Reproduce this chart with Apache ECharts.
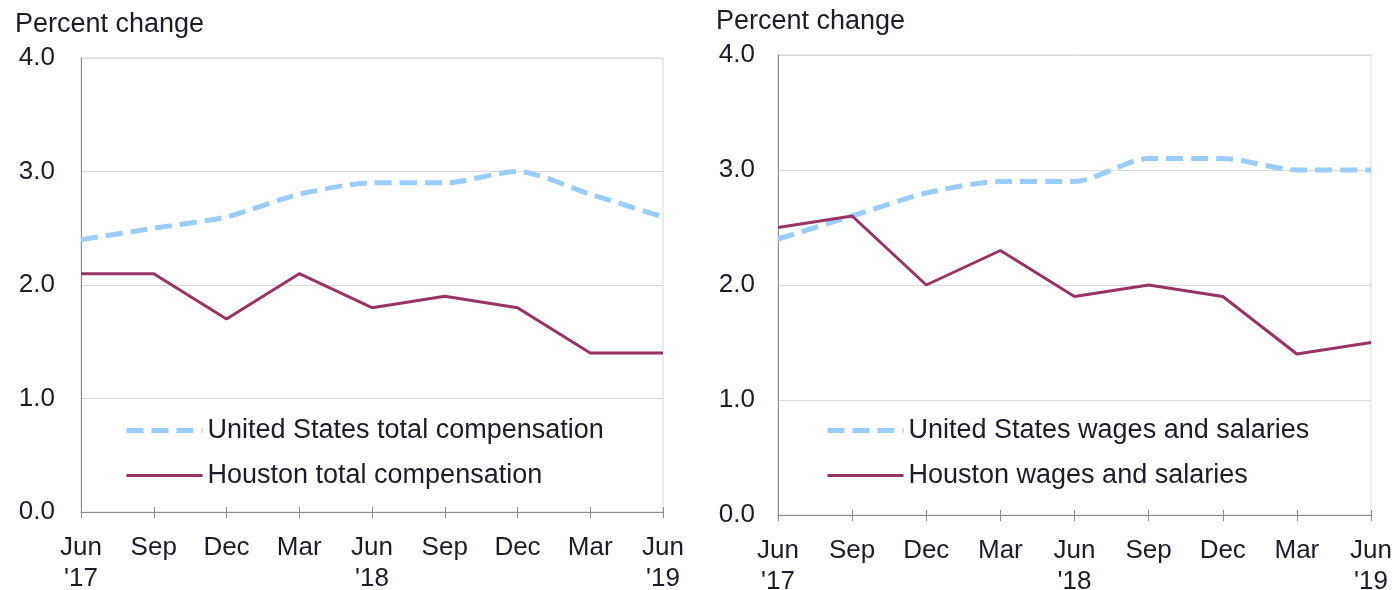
<!DOCTYPE html>
<html>
<head>
<meta charset="utf-8">
<script src="https://cdn.jsdelivr.net/npm/echarts@6/dist/echarts.min.js"></script>
<style>
  html, body { margin: 0; padding: 0; background: #fff; }
  #chart { width: 1398px; height: 590px; }
</style>
</head>
<body>
<div id="chart"></div>
<script>
// 季度标签
const quarters = ['Jun\n\'17', 'Sep', 'Dec', 'Mar', 'Jun\n\'18', 'Sep', 'Dec', 'Mar', 'Jun\n\'19'];

// 左图：总薪酬
const usTotalComp = [2.4, 2.5, 2.6, 2.8, 2.9, 2.9, 3.0, 2.8, 2.6];
const houstonTotalComp = [2.1, 2.1, 1.7, 2.1, 1.8, 1.9, 1.8, 1.4, 1.4];

// 右图：工资和薪金
const usWages = [2.4, 2.6, 2.8, 2.9, 2.9, 3.1, 3.1, 3.0, 3.0];
const houstonWages = [2.5, 2.6, 2.0, 2.3, 1.9, 2.0, 1.9, 1.4, 1.5];

const yTicks = { min: 0, max: 4, interval: 1 };

const usColor = '#99CCFF';
const houstonColor = '#993366';
const textColor = '#1c1c28';
const fontFamily = 'Liberation Sans, Arial, sans-serif';

const usLine = { color: usColor, width: 5, type: [17, 8] };
const houstonLine = { color: houstonColor, width: 3 };

var dom = document.getElementById('chart');
var myChart = echarts.init(dom, null, { renderer: 'canvas' });

function xAxisFor(gridIndex) {
    return {
        type: 'category',
        gridIndex: gridIndex,
        position: 'bottom',
        data: quarters,
        boundaryGap: false,
        axisLine: { lineStyle: { color: '#8c8c8c', width: 1 } },
        axisTick: { show: true, length: 6, lineStyle: { color: '#8c8c8c' } },
        axisLabel: {
            color: textColor, fontSize: 26, fontFamily: fontFamily,
            lineHeight: 31, margin: 20, interval: 0
        }
    };
}

// 叠加一个只画内侧刻度的x轴，让刻度线穿过轴线
function innerTickAxis(gridIndex) {
    return {
        type: 'category',
        gridIndex: gridIndex,
        position: 'bottom',
        data: quarters,
        boundaryGap: false,
        axisLine: { show: false },
        axisTick: { show: true, inside: true, length: 5, lineStyle: { color: '#8c8c8c' } },
        axisLabel: { show: false }
    };
}

function yAxisFor(gridIndex, margin) {
    return {
        type: 'value',
        gridIndex: gridIndex,
        min: yTicks.min, max: yTicks.max, interval: yTicks.interval,
        axisLine: { show: true, lineStyle: { color: '#8c8c8c' } },
        axisTick: { show: false },
        splitLine: { lineStyle: { color: '#d9d9d9' } },
        axisLabel: {
            color: textColor, fontSize: 26, fontFamily: fontFamily, margin: margin,
            formatter: function (v) { return v.toFixed(1); }
        }
    };
}

function usSeries(name, data, idx) {
    return {
        name: name, type: 'line', xAxisIndex: idx, yAxisIndex: idx,
        data: data, smooth: 0.25, symbol: 'none',
        lineStyle: usLine,
        itemStyle: { color: usColor }
    };
}

function houstonSeries(name, data, idx) {
    return {
        name: name, type: 'line', xAxisIndex: idx, yAxisIndex: idx,
        data: data, symbol: 'none',
        lineStyle: houstonLine,
        itemStyle: { color: houstonColor }
    };
}

function legendFor(left, usName, houstonName) {
    return {
        orient: 'vertical', left: left, top: 412,
        itemWidth: 76, itemHeight: 14, itemGap: 18,
        itemStyle: { opacity: 0 },
        data: [
            { name: usName, lineStyle: usLine },
            { name: houstonName, lineStyle: houstonLine }
        ],
        textStyle: { color: textColor, fontSize: 27, fontFamily: fontFamily }
    };
}

var option = {
    animation: false,
    backgroundColor: '#fff',
    title: [
        { text: 'Percent change', left: 10, top: 6,
          textStyle: { color: textColor, fontSize: 27, fontWeight: 'normal', fontFamily: fontFamily } },
        { text: 'Percent change', left: 711, top: 3,
          textStyle: { color: textColor, fontSize: 27, fontWeight: 'normal', fontFamily: fontFamily } }
    ],
    grid: [
        { left: 81, top: 58, width: 582, height: 454, outerBoundsMode: 'none',
          show: true, borderColor: '#d9d9d9', borderWidth: 1 },
        { left: 778, top: 55, width: 593, height: 460, outerBoundsMode: 'none',
          show: true, borderColor: '#d9d9d9', borderWidth: 1 }
    ],
    xAxis: [xAxisFor(0), xAxisFor(1), innerTickAxis(0), innerTickAxis(1)],
    yAxis: [yAxisFor(0, 26), yAxisFor(1, 23)],
    legend: [
        legendFor(119, 'United States total compensation', 'Houston total compensation'),
        legendFor(820, 'United States wages and salaries', 'Houston wages and salaries')
    ],
    series: [
        usSeries('United States total compensation', usTotalComp, 0),
        houstonSeries('Houston total compensation', houstonTotalComp, 0),
        usSeries('United States wages and salaries', usWages, 1),
        houstonSeries('Houston wages and salaries', houstonWages, 1)
    ]
};

myChart.setOption(option);
window.addEventListener('resize', myChart.resize);
</script>
</body>
</html>
